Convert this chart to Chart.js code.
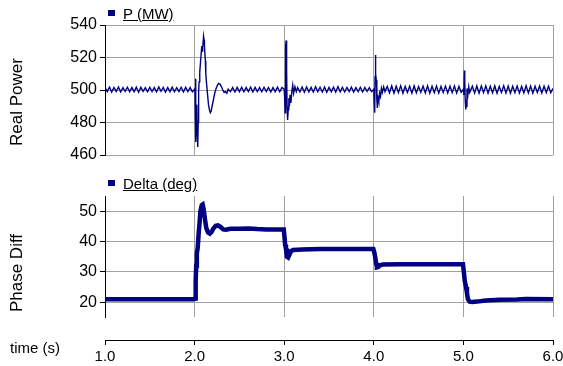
<!DOCTYPE html>
<html>
<head>
<meta charset="utf-8">
<script src="https://cdn.jsdelivr.net/npm/chart.js@4.4.1/dist/chart.umd.min.js"></script>
<style>
  body { margin: 0; background: #fff; }
  #wrap { position: relative; width: 563px; height: 366px; font-family: "Liberation Sans", Arial, sans-serif; color: #000; }
  canvas { position: absolute; left: 0; }
  .ytitle { position: absolute; font-size: 17px; white-space: nowrap; transform: translate(-50%, -50%) rotate(-90deg); }
  .legend { position: absolute; left: 108px; font-size: 15px; line-height: 15px; white-space: nowrap; }
  .legend i { display: inline-block; width: 7px; height: 6px; background: #000080; margin-right: 8px; vertical-align: 3px; }
  .legend span { text-decoration: underline; }
  #xlabel { position: absolute; left: 10px; top: 340px; font-size: 15px; line-height: 15px; }
</style>
</head>
<body>
<div id="wrap">
  <canvas id="c1" width="563" height="170" style="top:0"></canvas>
  <canvas id="c2" width="563" height="160" style="top:170px"></canvas>
  <canvas id="c3" width="563" height="36" style="top:330px"></canvas>
  <div class="legend" style="top:6px"><i></i><span>P (MW)</span></div>
  <div class="legend" style="top:176px"><i></i><span>Delta (deg)</span></div>
  <div class="ytitle" style="left:17px; top:102px">Real Power</div>
  <div class="ytitle" style="left:17px; top:273px">Phase Diff</div>
  <div id="xlabel">time (s)</div>
</div>
<script>
// real power P (MW) vs time (s)
var pTime = [
  1.000,1.025,1.050,1.075,1.100,1.125,1.150,1.175,1.200,1.225,1.250,1.275,1.300,1.325,1.350,1.375,1.400,1.425,1.450,1.475,
  1.500,1.525,1.550,1.575,1.600,1.625,1.650,1.675,1.700,1.725,1.750,1.775,1.800,1.825,1.850,1.875,1.900,1.925,1.950,1.975,
  2.000,2.005,2.010,2.015,2.020,2.025,2.030,2.035,2.040,2.045,2.050,2.055,2.060,2.070,2.080,2.085,2.090,2.100,2.105,2.110,
  2.120,2.125,2.135,2.145,2.155,2.165,2.175,2.185,2.195,2.210,2.225,2.240,2.255,2.270,2.285,2.300,2.315,2.330,2.345,2.360,
  2.375,2.400,2.425,2.450,2.475,2.500,2.525,2.550,2.575,2.600,2.625,2.650,2.675,2.700,2.725,2.750,2.775,2.800,2.825,2.850,
  2.875,2.900,2.925,2.950,2.975,
  3.000,3.005,3.010,3.013,3.018,3.022,3.027,3.032,3.038,3.045,3.052,3.058,3.065,3.075,3.085,3.095,3.105,3.120,3.135,
  3.150,3.175,3.200,3.225,3.250,3.275,3.300,3.325,3.350,3.375,3.400,3.425,3.450,3.475,3.500,3.525,3.550,3.575,3.600,3.625,
  3.650,3.675,3.700,3.725,3.750,3.775,3.800,3.825,3.850,3.875,3.900,3.925,3.950,3.975,
  4.000,4.005,4.010,4.014,4.018,4.022,4.028,4.034,4.040,4.048,4.056,4.065,4.075,4.085,4.095,4.110,4.125,
  4.150,4.175,4.200,4.225,4.250,4.275,4.300,4.325,4.350,4.375,4.400,4.425,4.450,4.475,4.500,4.525,4.550,4.575,4.600,4.625,
  4.650,4.675,4.700,4.725,4.750,4.775,4.800,4.825,4.850,4.875,4.900,4.925,4.950,4.975,
  5.000,5.005,5.010,5.015,5.020,5.026,5.032,5.040,5.050,5.060,5.070,
  5.100,5.125,5.150,5.175,5.200,5.225,5.250,5.275,5.300,5.325,5.350,5.375,5.400,5.425,5.450,5.475,5.500,5.525,5.550,5.575,
  5.600,5.625,5.650,5.675,5.700,5.725,5.750,5.775,5.800,5.825,5.850,5.875,5.900,5.925,5.950,5.975,6.000
];
var pMW = [
  501.6,499.0,501.8,498.7,501.5,499.1,501.9,498.8,501.4,499.2,501.7,498.9,501.5,499.0,501.8,498.6,501.6,499.1,501.4,498.9,
  501.7,499.0,501.5,498.8,501.9,499.2,501.6,498.7,501.5,499.0,501.8,498.9,501.4,499.1,501.7,498.8,501.6,499.0,501.5,498.9,
  500.5,498,507,468,488,491,472,465,480,499,505,512,511,520,527,524,526,533,531,527,
  518,510,503,497,491,488,486,487,490,494,498,501,503,504,503.5,502,500,498.5,499,498,
  500.5,499.0,501.5,498.8,501.6,499.0,501.7,498.9,501.5,499.1,501.8,498.8,501.6,499.0,501.5,498.9,501.7,499.1,501.6,498.8,
  501.5,499.0,501.8,498.9,501.5,
  500.5,495,486,510,527,530.5,512,490,481.5,488,495,490,497,492,499,503,498,502,499,
  501.5,498.8,501.8,498.6,501.9,498.9,501.6,498.7,502.0,499.0,501.7,498.8,501.9,498.6,501.6,499.0,501.8,498.7,502.1,498.9,
  501.7,498.8,501.6,499.1,501.8,498.7,501.5,499.0,501.7,498.8,501.6,499.2,501.4,499.0,
  500.5,492,486,508,521.5,510,506,494,489,495,493,498,496,501,498.5,502,499,
  502.2,498.3,502.5,498.0,502.3,498.4,502.6,498.1,502.2,498.5,502.4,498.0,502.5,498.3,502.1,498.6,502.4,498.2,502.6,498.0,
  502.3,498.4,502.5,498.1,502.2,498.5,502.4,498.2,502.3,498.4,502.5,498.1,502.2,498.6,
  500.5,497,512,506,494,488,490,501,497,502,498.5,
  502.3,498.2,502.5,498.0,502.4,498.4,502.6,498.1,502.3,498.3,502.5,498.0,502.2,498.5,502.6,498.2,502.4,498.0,502.3,498.4,
  502.5,498.1,502.2,498.3,502.6,498.2,502.4,498.0,502.3,498.5,502.5,498.2,502.3,498.4,502.4,498.3,501.0
];

// phase difference delta (deg) vs time (s)
var dTime = [
  1.0,1.5,1.99,2.005,2.012,2.018,2.025,2.035,2.045,2.055,2.065,2.08,2.09,2.1,2.115,2.13,2.15,2.17,2.19,2.21,
  2.235,2.26,2.29,2.32,2.35,2.4,2.5,2.6,2.7,2.8,2.9,2.995,
  3.005,3.01,3.02,3.03,3.04,3.05,3.06,3.075,3.1,3.2,3.4,3.6,3.8,3.995,
  4.005,4.015,4.025,4.035,4.05,4.07,4.1,4.3,4.6,4.995,
  5.005,5.015,5.03,5.04,5.05,5.07,5.1,5.15,5.25,5.4,5.6,5.7,6.0
];
var dDeg = [
  21.0,21.0,21.0,21.2,27,32,36,38,42.5,46,50,52,52.2,50.8,47.5,44.5,43,42.6,43.2,44.3,
  45.2,45.3,44.8,44.0,43.9,44.2,44.2,44.3,44.1,44.0,44.0,44.0,
  41,39,37.5,35,34.8,36.3,35.8,36.8,37.2,37.4,37.5,37.5,37.5,37.5,
  36.5,35,33,31.5,31.6,32.2,32.4,32.5,32.5,32.5,
  30,27,25,23,21,20.2,20.1,20.2,20.6,20.8,20.9,21.1,21.0
];

var xTicks = [1, 2, 3, 4, 5, 6];
var pTicks = [460, 480, 500, 520, 540];
var dTicks = [20, 30, 40, 50];

var gridGray = '#a0a0a0';
var navy = '#000080';
var fontName = '"Liberation Sans", Arial, sans-serif';

function pts(xs, ys) {
  return xs.map(function (x, i) { return { x: x, y: ys[i] }; });
}

function setTicks(list) {
  return function (scale) {
    scale.ticks = list.map(function (v) { return { value: v }; });
  };
}

function xGridColor(c) {
  return c.tick && c.tick.value === 1 ? 'rgba(0,0,0,0)' : gridGray;
}

function plotX() {
  return {
    type: 'linear', min: 1, max: 6,
    afterBuildTicks: setTicks(xTicks),
    ticks: { display: false },
    border: { display: false },
    grid: { color: xGridColor, drawTicks: false, lineWidth: 1 },
    afterFit: function (s) { s.height = 0; }
  };
}

function plotY(min, max, list) {
  return {
    min: min, max: max,
    afterBuildTicks: setTicks(list),
    border: { color: '#000', width: 1 },
    grid: { color: gridGray, tickColor: '#000', tickLength: 5, lineWidth: 1 },
    ticks: { color: '#000', padding: 3, font: { family: fontName, size: 16 } },
    afterFit: function (s) { s.width = 105; }
  };
}

Chart.defaults.font.family = fontName;

new Chart(document.getElementById('c1'), {
  type: 'line',
  data: {
    datasets: [{
      label: 'P (MW)',
      data: pts(pTime, pMW),
      borderColor: navy,
      borderWidth: 1.4,
      pointRadius: 0,
      tension: 0
    }]
  },
  options: {
    responsive: false,
    animation: false,
    layout: { padding: { top: 25, bottom: 15, right: 10, left: 0 } },
    plugins: { legend: { display: false }, tooltip: { enabled: false } },
    scales: { x: plotX(), y: plotY(460, 540, pTicks) }
  }
});

new Chart(document.getElementById('c2'), {
  type: 'line',
  data: {
    datasets: [{
      label: 'Delta (deg)',
      data: pts(dTime, dDeg),
      borderColor: navy,
      borderWidth: 4.5,
      pointRadius: 0,
      tension: 0
    }]
  },
  options: {
    responsive: false,
    animation: false,
    layout: { padding: { top: 26, bottom: 5, right: 10, left: 0 } },
    plugins: { legend: { display: false }, tooltip: { enabled: false } },
    scales: { x: plotX(), y: plotY(15, 55, dTicks) }
  }
});

// separate time axis below the lower plot
new Chart(document.getElementById('c3'), {
  type: 'line',
  data: { datasets: [{ data: [] }] },
  options: {
    responsive: false,
    animation: false,
    layout: { padding: { top: 0, bottom: 0, right: 10, left: 105 } },
    plugins: { legend: { display: false }, tooltip: { enabled: false } },
    scales: {
      x: {
        type: 'linear', min: 1, max: 6,
        afterBuildTicks: setTicks(xTicks),
        border: { color: '#000', width: 1 },
        grid: { drawOnChartArea: false, tickColor: '#000', tickLength: 5 },
        ticks: {
          color: '#000', padding: 3, maxRotation: 0,
          font: { family: fontName, size: 15 },
          callback: function (v) { return Number(v).toFixed(1); }
        },
        afterFit: function (s) { s.height = 26; s.paddingLeft = 0; s.paddingRight = 0; }
      },
      y: { display: false, min: 0, max: 1 }
    }
  }
});
</script>
</body>
</html>
